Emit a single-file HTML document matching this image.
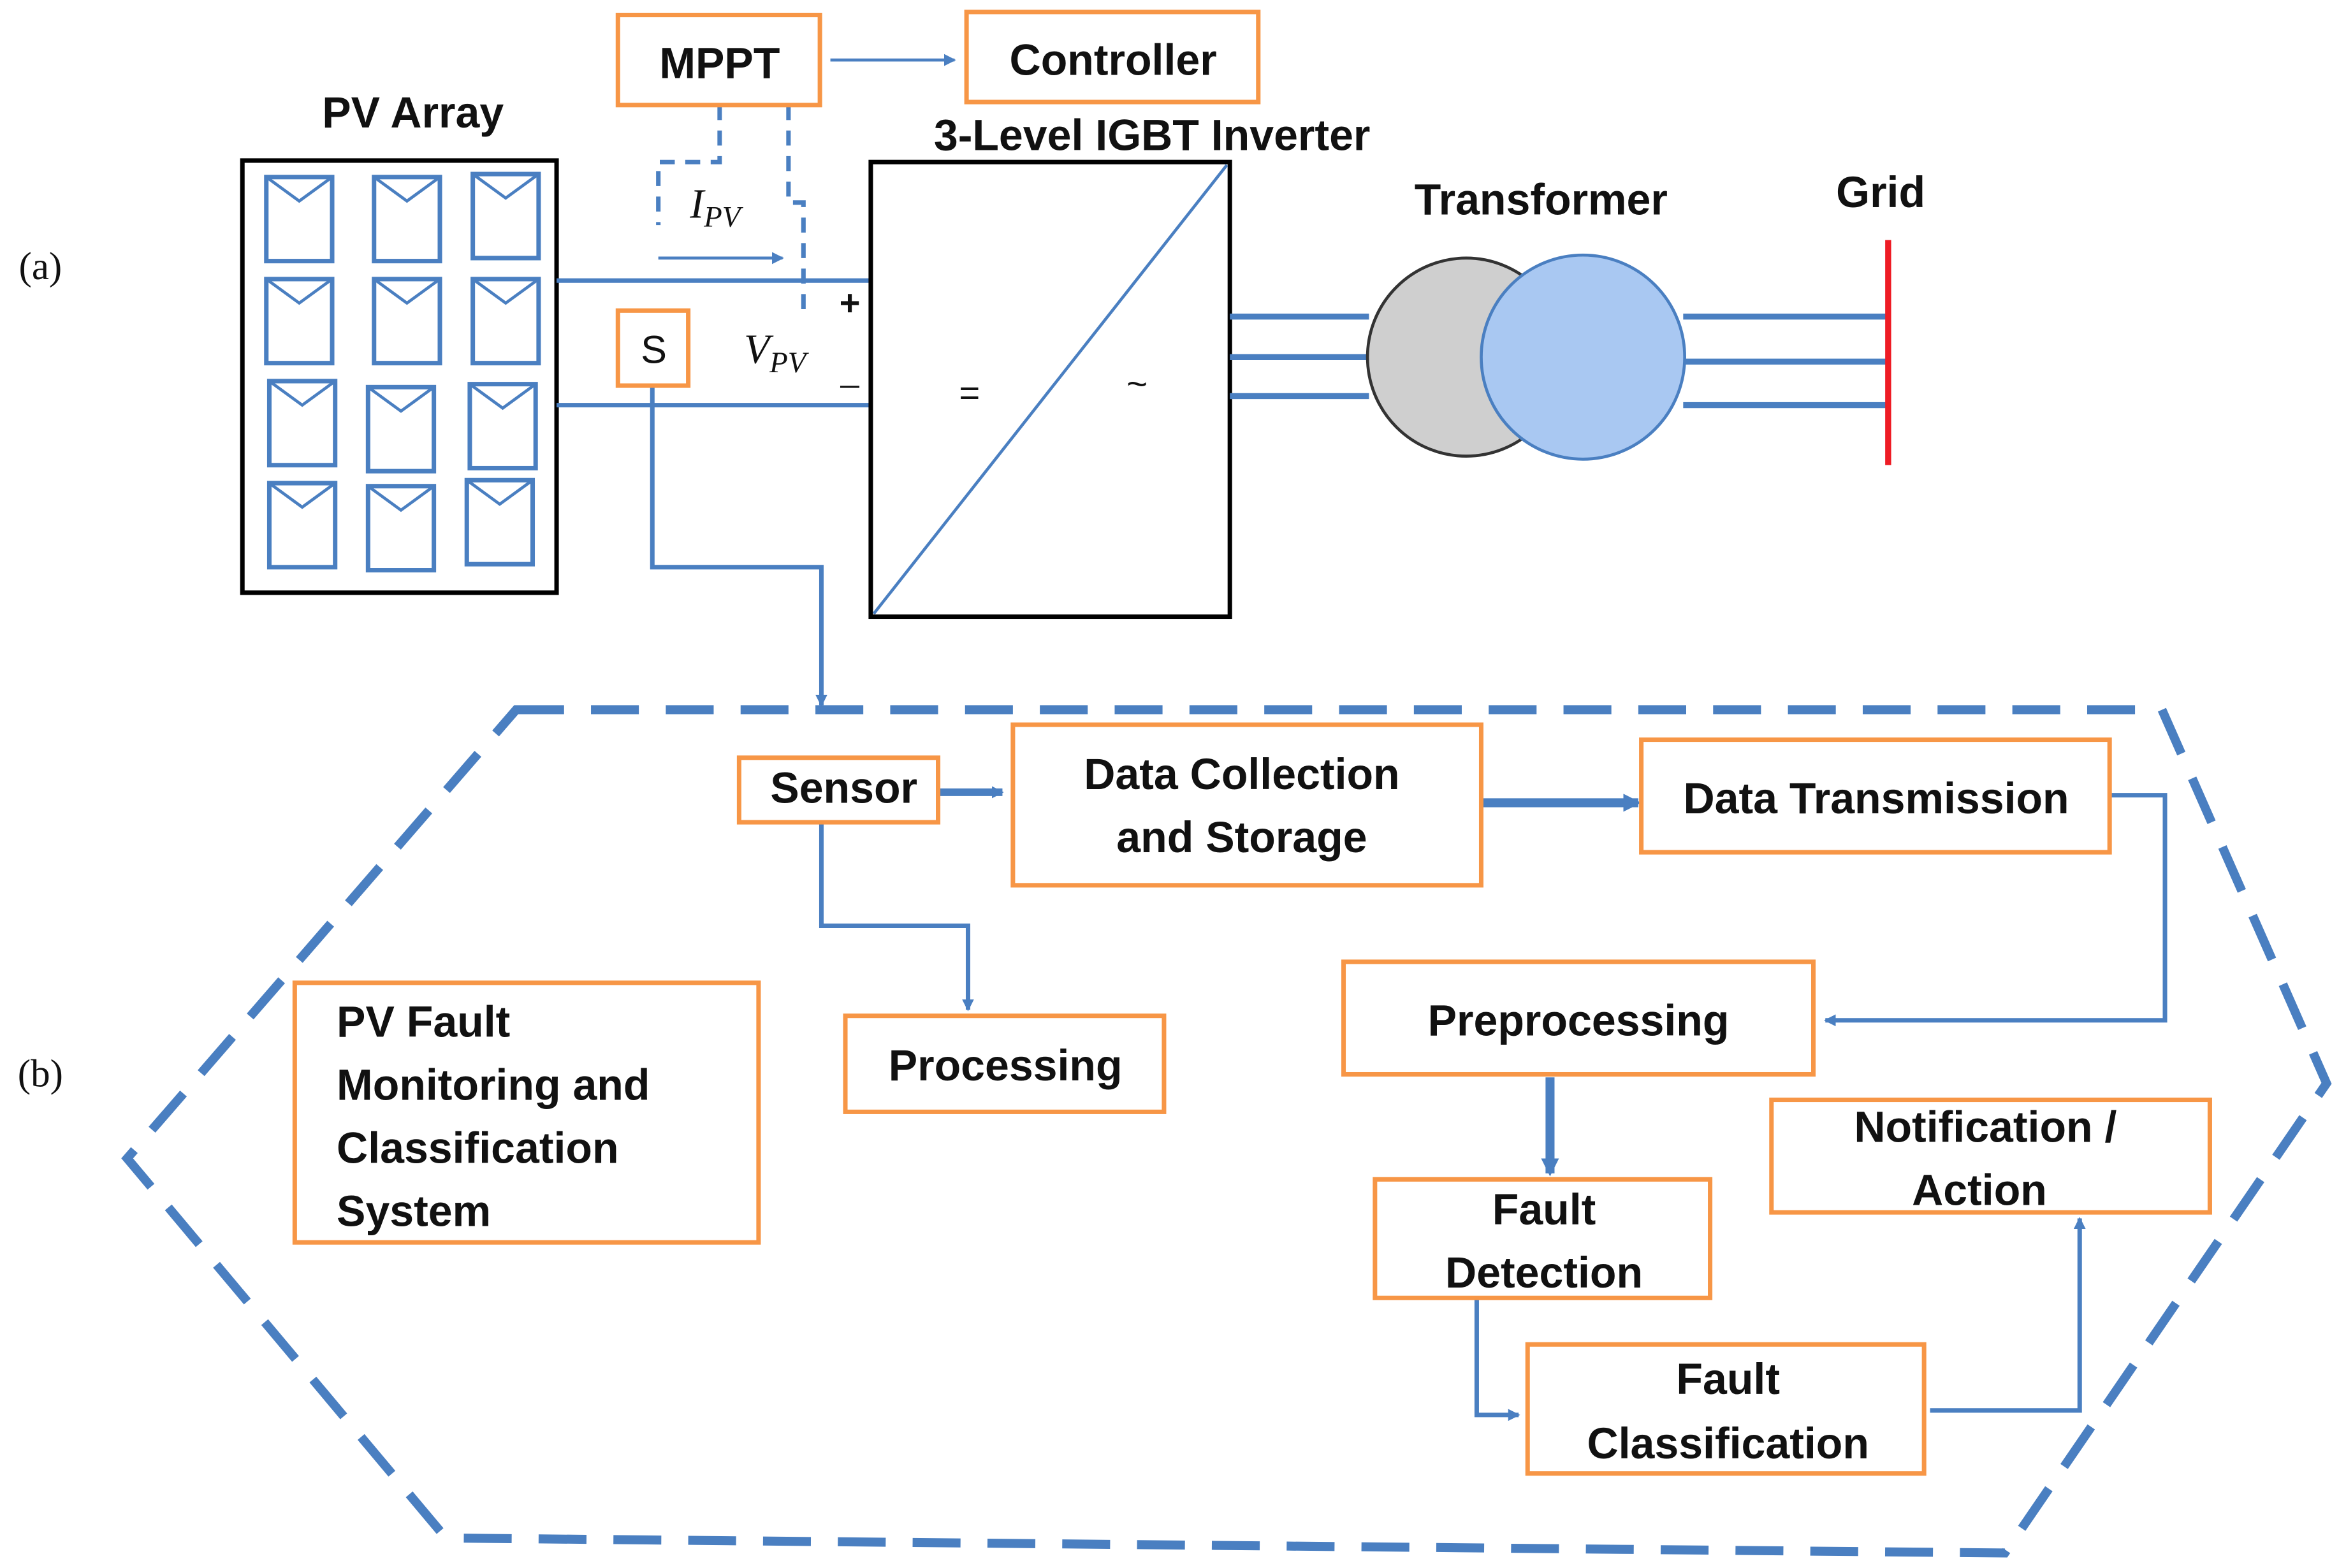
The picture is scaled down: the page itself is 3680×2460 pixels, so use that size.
<!DOCTYPE html>
<html><head><meta charset="utf-8"><style>html,body{margin:0;padding:0;background:#fff}svg{display:block}</style></head>
<body>
<svg width="3680" height="2460" viewBox="0 0 1568 1045" preserveAspectRatio="none" xmlns="http://www.w3.org/2000/svg">
<defs>
<marker id="a" markerWidth="8" markerHeight="8" refX="7" refY="4" orient="auto" markerUnits="userSpaceOnUse"><path d="M0,0 L8,4 L0,8 z" fill="#4a7fc1"/></marker>
<marker id="b" markerWidth="12" markerHeight="12" refX="10" refY="6" orient="auto" markerUnits="userSpaceOnUse"><path d="M0,0 L12,6 L0,12 z" fill="#4a7fc1"/></marker>
</defs>
<g font-family="Liberation Sans, sans-serif" font-weight="bold" font-size="29" fill="#111" text-anchor="middle">
<!-- hexagon -->
<polygon points="345,473 1445,473 1555,722 1340,1035 298,1025 85,772" fill="none" stroke="#4a7fc1" stroke-width="6" stroke-dasharray="32 18"/>
<!-- PV array -->
<rect x="162" y="107" width="210" height="288" fill="#fff" stroke="#000" stroke-width="3"/>
<g fill="#fff" stroke="#4a7fc1" stroke-width="3">
<rect x="178" y="118" width="44" height="56"/><rect x="250" y="118" width="44" height="56"/><rect x="316" y="116" width="44" height="56"/>
<rect x="178" y="186" width="44" height="56"/><rect x="250" y="186" width="44" height="56"/><rect x="316" y="186" width="44" height="56"/>
<rect x="180" y="254" width="44" height="56"/><rect x="246" y="258" width="44" height="56"/><rect x="314" y="256" width="44" height="56"/>
<rect x="180" y="322" width="44" height="56"/><rect x="246" y="324" width="44" height="56"/><rect x="312" y="320" width="44" height="56"/>
</g>
<g fill="none" stroke="#4a7fc1" stroke-width="2">
<path d="M178,118 l22,16 l22,-16 M250,118 l22,16 l22,-16 M316,116 l22,16 l22,-16 M178,186 l22,16 l22,-16 M250,186 l22,16 l22,-16 M316,186 l22,16 l22,-16 M180,254 l22,16 l22,-16 M246,258 l22,16 l22,-16 M314,256 l22,16 l22,-16 M180,322 l22,16 l22,-16 M246,324 l22,16 l22,-16 M312,320 l22,16 l22,-16"/>
</g>
<text x="276" y="85">PV Array</text>
<!-- DC lines -->
<g stroke="#4a7fc1" stroke-width="3" fill="none">
<line x1="372" y1="187" x2="582" y2="187"/><line x1="372" y1="270" x2="582" y2="270"/>
<path d="M436,257 V378 H549 V470" marker-end="url(#a)"/>
<line x1="555" y1="40" x2="638" y2="40" stroke-width="2" marker-end="url(#a)"/>
<line x1="440" y1="172" x2="523" y2="172" stroke-width="2" marker-end="url(#a)"/>
<path d="M481,70 V108 H440 V150 M527,70 V135 H537 V210" stroke-dasharray="10 7"/>
</g>
<!-- MPPT, controller, S -->
<g fill="#fff" stroke="#f79646" stroke-width="3">
<rect x="413" y="10" width="135" height="60"/><rect x="646" y="8" width="195" height="60"/><rect x="413" y="207" width="47" height="50"/>
</g>
<text x="481" y="52">MPPT</text><text x="744" y="50">Controller</text>
<text x="437" y="242" font-weight="normal" font-size="26">S</text>
<text x="478" y="145" font-family="Liberation Serif, serif" font-style="italic" font-weight="normal" font-size="28">I<tspan font-size="20" dy="6">PV</tspan></text>
<text x="518" y="242" font-family="Liberation Serif, serif" font-style="italic" font-weight="normal" font-size="28">V<tspan font-size="20" dy="6">PV</tspan></text>
<text x="568" y="210" font-size="24">+</text><text x="568" y="254" font-size="22" font-weight="normal">_</text>
<!-- inverter -->
<rect x="582" y="108" width="240" height="303" fill="#fff" stroke="#000" stroke-width="3"/>
<line x1="584" y1="409" x2="820" y2="110" stroke="#4a7fc1" stroke-width="2"/>
<text x="648" y="270" font-weight="normal" font-size="24">=</text><text x="760" y="264" font-weight="normal" font-size="24">~</text>
<text x="770" y="100">3-Level IGBT Inverter</text>
<!-- transformer -->
<g stroke="#4a7fc1" stroke-width="4">
<line x1="822" y1="211" x2="915" y2="211"/><line x1="822" y1="238" x2="915" y2="238"/><line x1="822" y1="264" x2="915" y2="264"/>
<line x1="1125" y1="211" x2="1262" y2="211"/><line x1="1125" y1="241" x2="1262" y2="241"/><line x1="1125" y1="270" x2="1262" y2="270"/>
</g>
<circle cx="980" cy="238" r="66" fill="#cfcfcf" stroke="#333" stroke-width="2"/>
<circle cx="1058" cy="238" r="68" fill="#a9c8f2" stroke="#4a7fc1" stroke-width="2"/>
<line x1="1262" y1="160" x2="1262" y2="310" stroke="#ee1c25" stroke-width="4"/>
<text x="1030" y="143">Transformer</text><text x="1257" y="138">Grid</text>
<!-- bottom connectors -->
<g stroke="#4a7fc1" stroke-width="3" fill="none">
<line x1="627" y1="528" x2="670" y2="528" stroke-width="5" marker-end="url(#a)"/>
<line x1="990" y1="535" x2="1095" y2="535" stroke-width="6" marker-end="url(#b)"/>
<path d="M1410,530 H1447 V680 H1220" marker-end="url(#a)"/>
<line x1="1036" y1="718" x2="1036" y2="782" stroke-width="6" marker-end="url(#b)"/>
<path d="M987,865 V943 H1015" marker-end="url(#a)"/>
<path d="M1290,940 H1390 V812" marker-end="url(#a)"/>
<path d="M549,548 V617 H647 V673" marker-end="url(#a)"/>
</g>
<g fill="#fff" stroke="#f79646" stroke-width="3">
<rect x="494" y="505" width="133" height="43"/><rect x="677" y="483" width="313" height="107"/>
<rect x="1097" y="493" width="313" height="75"/><rect x="898" y="641" width="314" height="75"/>
<rect x="919" y="786" width="224" height="79"/><rect x="1021" y="896" width="265" height="86"/>
<rect x="1184" y="733" width="293" height="75"/><rect x="565" y="677" width="213" height="64"/>
<rect x="197" y="655" width="310" height="173"/>
</g>
<text x="564" y="535">Sensor</text>
<text x="830" y="526">Data Collection</text><text x="830" y="568">and Storage</text>
<text x="1254" y="542">Data Transmission</text>
<text x="1055" y="690">Preprocessing</text>
<text x="1032" y="816">Fault</text><text x="1032" y="858">Detection</text>
<text x="1155" y="929">Fault</text><text x="1155" y="972">Classification</text>
<text x="1327" y="761">Notification /</text><text x="1323" y="803">Action</text>
<text x="672" y="720">Processing</text>
<g text-anchor="start"><text x="225" y="691">PV Fault</text><text x="225" y="733">Monitoring and</text><text x="225" y="775">Classification</text><text x="225" y="817">System</text></g>
<text x="27" y="186" font-family="Liberation Serif, serif" font-weight="normal" font-size="26">(a)</text>
<text x="27" y="724" font-family="Liberation Serif, serif" font-weight="normal" font-size="26">(b)</text>
</g>
</svg>
</body></html>
